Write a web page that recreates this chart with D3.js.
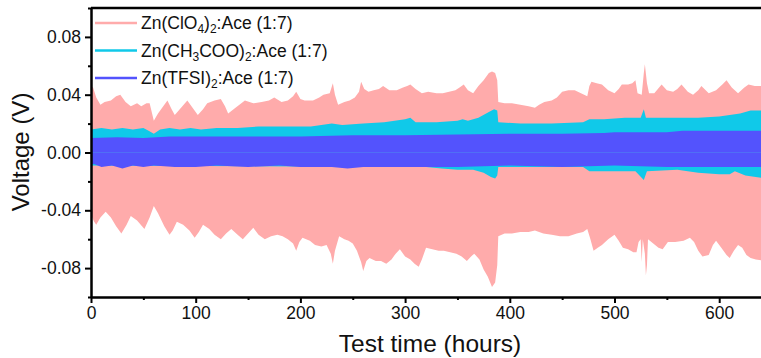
<!DOCTYPE html>
<html>
<head>
<meta charset="utf-8">
<script src="https://cdn.jsdelivr.net/npm/d3@7"></script>
<style>
  body { margin: 0; background: #fff; }
  svg { display: block; font-family: "Liberation Sans", Arial, sans-serif; }
</style>
</head>
<body>
<svg id="chart" width="761" height="358"></svg>
<script>
// envelopes of the cycling voltage, [hours, volts]
var clo4Upper = [[0,0.046],[2,0.045],[5,0.038],[9,0.033],[13,0.035],[19,0.036],[24,0.039],[28,0.040],[33,0.035],[38,0.032],[44,0.034],[48,0.032],[53,0.034],[56,0.034],[60,0.022],[64,0.027],[69,0.032],[73,0.036],[77,0.030],[80,0.026],[86,0.031],[92,0.036],[97,0.031],[102,0.026],[107,0.030],[111,0.034],[118,0.036],[124,0.037],[128,0.032],[131,0.027],[138,0.031],[147,0.036],[155,0.034],[163,0.035],[170,0.036],[175,0.038],[182,0.035],[188,0.036],[193,0.039],[196,0.042],[200,0.037],[204,0.036],[212,0.036],[218,0.038],[222,0.040],[228,0.041],[231,0.048],[233,0.040],[236,0.033],[242,0.035],[247,0.036],[252,0.038],[256,0.042],[258,0.049],[261,0.044],[265,0.042],[270,0.043],[275,0.044],[279,0.046],[285,0.043],[292,0.043],[298,0.045],[302,0.046],[305,0.047],[310,0.044],[316,0.041],[322,0.042],[330,0.041],[336,0.041],[342,0.042],[348,0.043],[352,0.045],[356,0.047],[360,0.043],[365,0.041],[370,0.046],[375,0.050],[380,0.055],[383,0.056],[386,0.055],[388,0.050],[389,0.035],[395,0.034],[402,0.034],[410,0.033],[418,0.032],[424,0.031],[428,0.033],[433,0.035],[440,0.036],[445,0.038],[450,0.042],[456,0.043],[462,0.043],[468,0.041],[474,0.039],[476,0.046],[478,0.049],[483,0.048],[488,0.047],[494,0.043],[500,0.041],[504,0.044],[507,0.047],[513,0.047],[517,0.048],[520,0.050],[522,0.041],[526,0.040],[528,0.055],[529,0.061],[531,0.048],[533,0.041],[538,0.041],[545,0.047],[550,0.043],[556,0.042],[560,0.044],[564,0.047],[570,0.042],[575,0.040],[580,0.043],[583,0.046],[590,0.041],[597,0.043],[603,0.047],[607,0.050],[612,0.045],[618,0.041],[624,0.045],[628,0.047],[634,0.046],[645,0.046]];
var clo4Lower = [[0,-0.043],[3,-0.048],[5,-0.050],[9,-0.045],[14,-0.041],[19,-0.045],[24,-0.051],[29,-0.056],[34,-0.050],[38,-0.044],[44,-0.047],[51,-0.053],[56,-0.045],[60,-0.037],[64,-0.042],[70,-0.051],[75,-0.057],[78,-0.054],[82,-0.048],[88,-0.050],[94,-0.054],[99,-0.059],[103,-0.055],[107,-0.050],[113,-0.053],[118,-0.057],[124,-0.060],[129,-0.056],[134,-0.053],[140,-0.057],[145,-0.060],[150,-0.056],[155,-0.052],[160,-0.057],[166,-0.060],[172,-0.058],[178,-0.057],[183,-0.058],[188,-0.060],[193,-0.063],[196,-0.068],[199,-0.062],[202,-0.059],[209,-0.061],[214,-0.064],[220,-0.065],[225,-0.064],[229,-0.070],[231,-0.077],[233,-0.068],[237,-0.058],[242,-0.060],[246,-0.061],[250,-0.063],[254,-0.068],[258,-0.076],[260,-0.082],[263,-0.075],[266,-0.073],[272,-0.075],[277,-0.075],[282,-0.077],[287,-0.074],[291,-0.070],[295,-0.067],[300,-0.072],[305,-0.074],[309,-0.077],[313,-0.079],[316,-0.074],[320,-0.066],[326,-0.067],[332,-0.068],[337,-0.068],[343,-0.069],[349,-0.070],[354,-0.072],[359,-0.075],[363,-0.072],[366,-0.070],[371,-0.074],[375,-0.081],[379,-0.086],[383,-0.093],[386,-0.090],[388,-0.078],[389,-0.058],[395,-0.056],[402,-0.056],[410,-0.055],[418,-0.055],[424,-0.054],[432,-0.056],[440,-0.057],[448,-0.058],[456,-0.058],[464,-0.056],[470,-0.055],[474,-0.053],[477,-0.060],[480,-0.068],[484,-0.066],[488,-0.064],[494,-0.060],[500,-0.057],[504,-0.061],[508,-0.066],[513,-0.067],[518,-0.069],[521,-0.069],[523,-0.062],[525,-0.060],[526,-0.076],[527,-0.060],[529,-0.070],[530,-0.085],[531,-0.078],[532,-0.060],[537,-0.063],[542,-0.066],[546,-0.067],[551,-0.062],[558,-0.062],[566,-0.061],[572,-0.059],[576,-0.062],[580,-0.068],[584,-0.072],[590,-0.071],[594,-0.064],[597,-0.061],[602,-0.066],[607,-0.071],[610,-0.073],[614,-0.068],[618,-0.064],[622,-0.066],[626,-0.071],[630,-0.073],[635,-0.074],[645,-0.075]];

var acetUpper = [[0,0.016],[10,0.017],[20,0.016],[30,0.017],[40,0.016],[50,0.017],[55,0.015],[60,0.013],[66,0.016],[75,0.017],[85,0.016],[95,0.017],[105,0.016],[120,0.017],[140,0.017],[160,0.018],[180,0.018],[200,0.018],[210,0.018],[220,0.019],[230,0.020],[240,0.019],[260,0.020],[280,0.021],[300,0.023],[305,0.024],[310,0.021],[330,0.021],[350,0.022],[355,0.023],[360,0.022],[370,0.024],[380,0.028],[385,0.030],[388,0.029],[389,0.021],[410,0.020],[440,0.020],[470,0.021],[476,0.023],[490,0.023],[510,0.024],[525,0.024],[528,0.030],[530,0.024],[550,0.024],[580,0.024],[600,0.025],[620,0.027],[630,0.029],[645,0.029]];
var acetLower = [[0,-0.009],[320,-0.010],[335,-0.011],[350,-0.012],[365,-0.012],[375,-0.014],[382,-0.017],[386,-0.018],[388,-0.016],[389,-0.010],[470,-0.010],[476,-0.013],[500,-0.013],[520,-0.013],[528,-0.019],[531,-0.013],[560,-0.012],[580,-0.014],[600,-0.015],[610,-0.015],[615,-0.013],[625,-0.016],[645,-0.018]];

var tfsiUpper = [[0,0.010],[25,0.0105],[50,0.010],[75,0.011],[100,0.011],[150,0.011],[200,0.011],[250,0.012],[300,0.012],[350,0.0125],[400,0.013],[450,0.013],[490,0.0135],[500,0.014],[550,0.014],[565,0.015],[600,0.015],[645,0.015]];
var tfsiLower = [[0,-0.008],[3,-0.008],[10,-0.010],[20,-0.009],[30,-0.011],[40,-0.009],[50,-0.010],[60,-0.009],[80,-0.010],[100,-0.010],[120,-0.009],[150,-0.010],[180,-0.009],[200,-0.010],[230,-0.010],[245,-0.011],[260,-0.010],[300,-0.010],[350,-0.010],[400,-0.009],[450,-0.010],[500,-0.009],[550,-0.010],[600,-0.010],[645,-0.010]];

var seriesNames = [
  [["Zn(ClO", 0], ["4", 1], [")", 0], ["2", 1], [":Ace (1:7)", 0]],
  [["Zn(CH", 0], ["3", 1], ["COO)", 0], ["2", 1], [":Ace (1:7)", 0]],
  [["Zn(TFSI)", 0], ["2", 1], [":Ace (1:7)", 0]]
];
var seriesColors = ["#ffabab", "#10c9e9", "#5353fd"];

var xMajor = [0, 100, 200, 300, 400, 500, 600];
var xMinor = [50, 150, 250, 350, 450, 550, 650];
var yMajor = [-0.08, -0.04, 0, 0.04, 0.08];
var yMinor = [-0.1, -0.06, -0.02, 0.02, 0.06, 0.1];

var svg = d3.select("#chart");
var plotLeft = 91, plotTop = 8, plotBottom = 297;

var x = d3.scaleLinear().domain([0, 650]).range([plotLeft, plotLeft + 650 * 1.047]);
var y = d3.scaleLinear().domain([-0.1, 0.1]).range([plotBottom, plotTop]);

svg.append("clipPath").attr("id", "plot").append("rect")
  .attr("x", plotLeft).attr("y", plotTop).attr("width", 761 - plotLeft).attr("height", plotBottom - plotTop);

var g = svg.append("g").attr("clip-path", "url(#plot)");

function band(data) {
  return d3.area()
    .x(function (d) { return x(d[0]); })
    .y0(y(0))
    .y1(function (d) { return y(d[1]); })(data);
}

var groups = [[clo4Upper, clo4Lower], [acetUpper, acetLower], [tfsiUpper, tfsiLower]];
groups.forEach(function (pair, i) {
  pair.forEach(function (data) {
    g.append("path").attr("d", band(data)).attr("fill", seriesColors[i]);
  });
});

// axes
svg.append("g").attr("transform", "translate(0," + plotBottom + ")")
  .call(d3.axisBottom(x).tickValues(xMajor).tickSize(6).tickSizeOuter(0).tickPadding(4)
    .tickFormat(d3.format("d")));
svg.append("g").attr("transform", "translate(0," + plotBottom + ")")
  .call(d3.axisBottom(x).tickValues(xMinor).tickSize(3).tickSizeOuter(0).tickFormat(""));

svg.append("g").attr("transform", "translate(" + plotLeft + ",0)")
  .call(d3.axisLeft(y).tickValues(yMajor).tickSize(6).tickSizeOuter(0).tickPadding(4)
    .tickFormat(function (d) { return d.toFixed(2); }));
svg.append("g").attr("transform", "translate(" + plotLeft + ",0)")
  .call(d3.axisLeft(y).tickValues(yMinor).tickSize(3).tickSizeOuter(0).tickFormat(""));

svg.selectAll(".domain").attr("stroke", "#000").attr("stroke-width", 2);
svg.selectAll(".tick line").attr("stroke", "#000").attr("stroke-width", 2);
svg.selectAll(".tick text").attr("font-size", 17.5).attr("fill", "#111")
  .attr("font-family", "Liberation Sans, Arial, sans-serif");

// top frame
svg.append("line").attr("x1", plotLeft).attr("x2", 761).attr("y1", plotTop).attr("y2", plotTop)
  .attr("stroke", "#000").attr("stroke-width", 2.5);

svg.append("text").attr("x", 430).attr("y", 352).attr("text-anchor", "middle")
  .attr("font-size", 24.5).attr("fill", "#111").text("Test time (hours)");
svg.append("text").attr("transform", "translate(29,152) rotate(-90)").attr("text-anchor", "middle")
  .attr("font-size", 24).attr("fill", "#111").text("Voltage (V)");

// legend
var legend = svg.append("g");
seriesNames.forEach(function (parts, i) {
  var ly = 23 + i * 27.5;
  legend.append("line").attr("x1", 95).attr("x2", 137).attr("y1", ly).attr("y2", ly)
    .attr("stroke", seriesColors[i]).attr("stroke-width", 2.5);
  var t = legend.append("text").attr("x", 141).attr("y", ly + 6).attr("font-size", 17.5).attr("fill", "#111");
  parts.forEach(function (p, k) {
    var prevSub = k > 0 && parts[k - 1][1];
    t.append("tspan")
      .attr("font-size", p[1] ? 12 : 17.5)
      .attr("dy", p[1] ? 4 : (prevSub ? -4 : 0))
      .text(p[0]);
  });
});
</script>
</body>
</html>
